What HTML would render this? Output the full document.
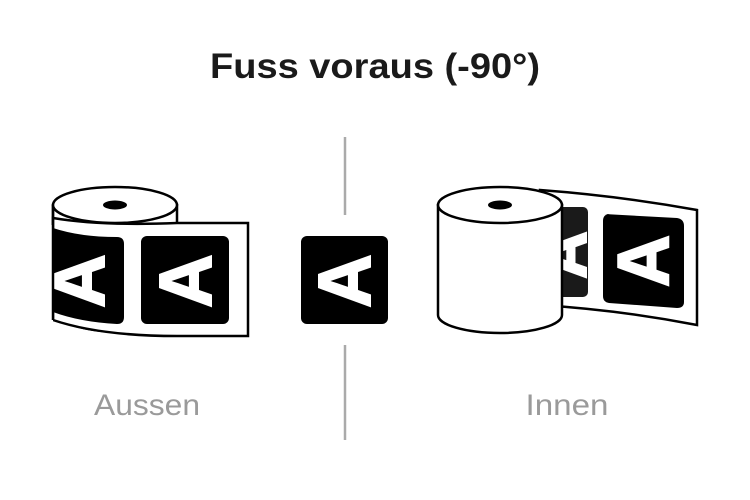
<!DOCTYPE html>
<html><head><style>
html,body{margin:0;padding:0;background:#fff;}
svg{display:block}
</style></head><body>
<svg width="750" height="500" viewBox="0 0 750 500" xmlns="http://www.w3.org/2000/svg">
<text x="375" y="78" text-anchor="middle" font-family="Liberation Sans, sans-serif" font-weight="bold" font-size="35" fill="#1a1a1a" textLength="330" lengthAdjust="spacingAndGlyphs">Fuss voraus (-90°)</text>
<line x1="345" y1="137" x2="345" y2="215" stroke="#aaa" stroke-width="2.5"/>
<line x1="345" y1="345" x2="345" y2="440" stroke="#aaa" stroke-width="2.5"/>
<text x="147" y="415" text-anchor="middle" font-family="Liberation Sans, sans-serif" font-size="30" fill="#9a9a9a" textLength="106" lengthAdjust="spacingAndGlyphs">Aussen</text>
<text x="567" y="415" text-anchor="middle" font-family="Liberation Sans, sans-serif" font-size="30" fill="#9a9a9a" textLength="83" lengthAdjust="spacingAndGlyphs">Innen</text>

<!-- left roll -->
<path d="M53,205 L53,318 Q115,345 177,318 L177,205 Z" fill="#fff" stroke="#000" stroke-width="2.5"/>
<path d="M53,218 Q100,226 177,223 L248,223 L248,336 L177,336 Q100,336 53,320 Z" fill="#fff" stroke="#000" stroke-width="2.5"/>
<path d="M53,228 Q80,237 117,237 Q124,237 124,244 L124,317 Q124,324 117,324 Q80,322 53,312 Z" fill="#000"/>
<text transform="translate(104,281) rotate(-90)" text-anchor="middle" font-family="Liberation Sans, sans-serif" font-weight="bold" font-size="74" fill="#fff" stroke="#fff" stroke-width="2">A</text>
<rect x="40" y="225" width="13" height="100" fill="#fff"/>
<line x1="53" y1="205" x2="53" y2="320" stroke="#000" stroke-width="2.5"/>
<ellipse cx="115" cy="205" rx="62" ry="18" fill="#fff" stroke="#000" stroke-width="2.5"/>
<ellipse cx="115" cy="205" rx="12" ry="4.5" fill="#000"/>
<rect x="141" y="236" width="88" height="88" rx="6" fill="#000"/>
<text transform="translate(211,281) rotate(-90)" text-anchor="middle" font-family="Liberation Sans, sans-serif" font-weight="bold" font-size="74" fill="#fff" stroke="#fff" stroke-width="2">A</text>

<!-- center -->
<rect x="301" y="236" width="87" height="88" rx="6" fill="#000"/>
<text transform="translate(370,281) rotate(-90)" text-anchor="middle" font-family="Liberation Sans, sans-serif" font-weight="bold" font-size="74" fill="#fff" stroke="#fff" stroke-width="2">A</text>

<!-- right roll -->
<path d="M540,190 Q620,196 697,210 L697,325 Q620,310 540,305 Z" fill="#fff" stroke="#000" stroke-width="2.5"/>
<rect x="555" y="207" width="33" height="90" rx="5" fill="#1a1a1a"/>
<text transform="translate(586,255) rotate(-90)" text-anchor="middle" font-family="Liberation Sans, sans-serif" font-weight="bold" font-size="66" fill="#fff" stroke="#fff" stroke-width="2">A</text>
<path d="M604,214 L677,218 Q684,219 684,226 L684,302 Q684,308 677,308 L609,303 Q603,302 603,296 L603,221 Q603,214 610,214 Z" fill="#000"/>
<text transform="translate(668,261) rotate(-90)" text-anchor="middle" font-family="Liberation Sans, sans-serif" font-weight="bold" font-size="72" fill="#fff" stroke="#fff" stroke-width="2">A</text>
<path d="M438,205 L438,315 A62,18 0 0 0 562,315 L562,205 Z" fill="#fff" stroke="#000" stroke-width="2.5"/>
<ellipse cx="500" cy="205" rx="62" ry="18" fill="#fff" stroke="#000" stroke-width="2.5"/>
<ellipse cx="500" cy="205" rx="12" ry="4.5" fill="#000"/>
</svg>
</body></html>
